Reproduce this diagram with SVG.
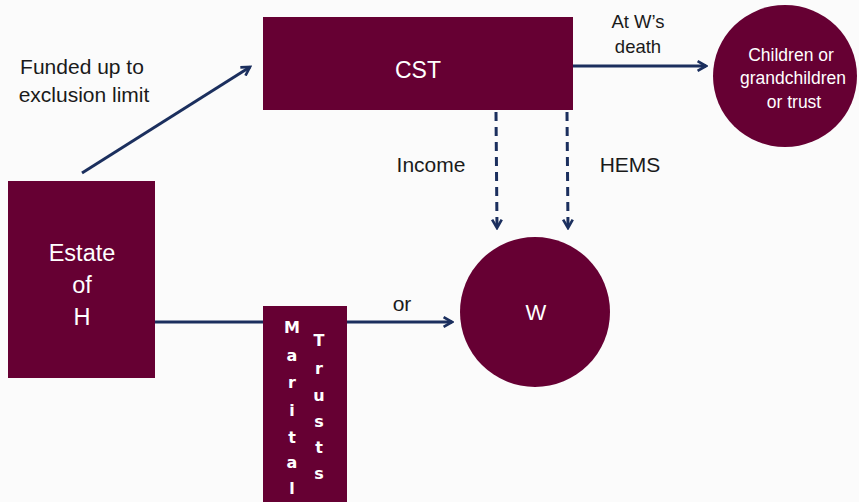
<svg xmlns="http://www.w3.org/2000/svg" width="859" height="502" viewBox="0 0 859 502">
<style>
.box{fill:#660033}
.lbl{font-family:"Liberation Sans",Arial,sans-serif;fill:#1a1a1a;text-anchor:middle}
.wt{font-family:"Liberation Sans",Arial,sans-serif;fill:#ffffff;text-anchor:middle}
.mt{font-family:"DejaVu Sans",sans-serif;font-weight:bold;font-size:16px;fill:#ffffff;text-anchor:middle}
.conn{stroke:#1b2f5e;stroke-width:3;fill:none}
.dash{stroke-dasharray:9,6}
</style>
<defs>
<marker id="ah" viewBox="0 0 10 10" refX="8" refY="5" markerWidth="4" markerHeight="4" orient="auto" markerUnits="strokeWidth">
<polyline points="1,1 8,5 1,9" fill="none" stroke="#1b2f5e" stroke-width="2.2"/>
</marker>
</defs>
<rect width="859" height="502" fill="#fbfbfb"/>
<g id="connectors">
<line class="conn" x1="82" y1="173" x2="250" y2="67" marker-end="url(#ah)"/>
<line class="conn" x1="155" y1="322" x2="452" y2="322" marker-end="url(#ah)"/>
<line class="conn" x1="573" y1="66" x2="706" y2="66" marker-end="url(#ah)"/>
<line class="conn dash" x1="496" y1="112" x2="497" y2="228" marker-end="url(#ah)"/>
<line class="conn dash" x1="567" y1="112" x2="568" y2="228" marker-end="url(#ah)"/>
</g>
<g id="cst">
<rect class="box" x="263" y="17" width="310" height="93"/>
<text class="wt" x="418" y="78" font-size="23">CST</text>
</g>
<g id="estate">
<rect class="box" x="8" y="181" width="147" height="197"/>
<text class="wt" x="82" y="261" font-size="23.5">Estate</text>
<text class="wt" x="82" y="293" font-size="23.5">of</text>
<text class="wt" x="82" y="325" font-size="23.5">H</text>
</g>
<g id="marital">
<rect class="box" x="263" y="306" width="84" height="196"/>
<text class="mt" x="292" y="333">M</text>
<text class="mt" x="292" y="361">a</text>
<text class="mt" x="292" y="388">r</text>
<text class="mt" x="292" y="416">i</text>
<text class="mt" x="292" y="443">t</text>
<text class="mt" x="292" y="468">a</text>
<text class="mt" x="292" y="494">l</text>
<text class="mt" x="319" y="346">T</text>
<text class="mt" x="319" y="374">r</text>
<text class="mt" x="319" y="401">u</text>
<text class="mt" x="319" y="427">s</text>
<text class="mt" x="319" y="453">t</text>
<text class="mt" x="319" y="479">s</text>
</g>
<g id="w">
<circle class="box" cx="535" cy="312" r="75"/>
<text class="wt" x="536" y="320" font-size="22">W</text>
</g>
<g id="children">
<ellipse class="box" cx="785" cy="76" rx="72" ry="71"/>
<text class="wt" x="791" y="61" font-size="17.5">Children or</text>
<text class="wt" x="793" y="84" font-size="17.5">grandchildren</text>
<text class="wt" x="794" y="108" font-size="17.5">or trust</text>
</g>
<g id="labels">
<text class="lbl" x="82" y="74" font-size="21">Funded up to</text>
<text class="lbl" x="84" y="102" font-size="21">exclusion limit</text>
<text class="lbl" x="638" y="28" font-size="18.5">At W’s</text>
<text class="lbl" x="638" y="53" font-size="18.5">death</text>
<text class="lbl" x="431" y="172" font-size="21">Income</text>
<text class="lbl" x="630" y="172" font-size="21">HEMS</text>
<text class="lbl" x="402" y="311" font-size="21">or</text>
</g>
</svg>
